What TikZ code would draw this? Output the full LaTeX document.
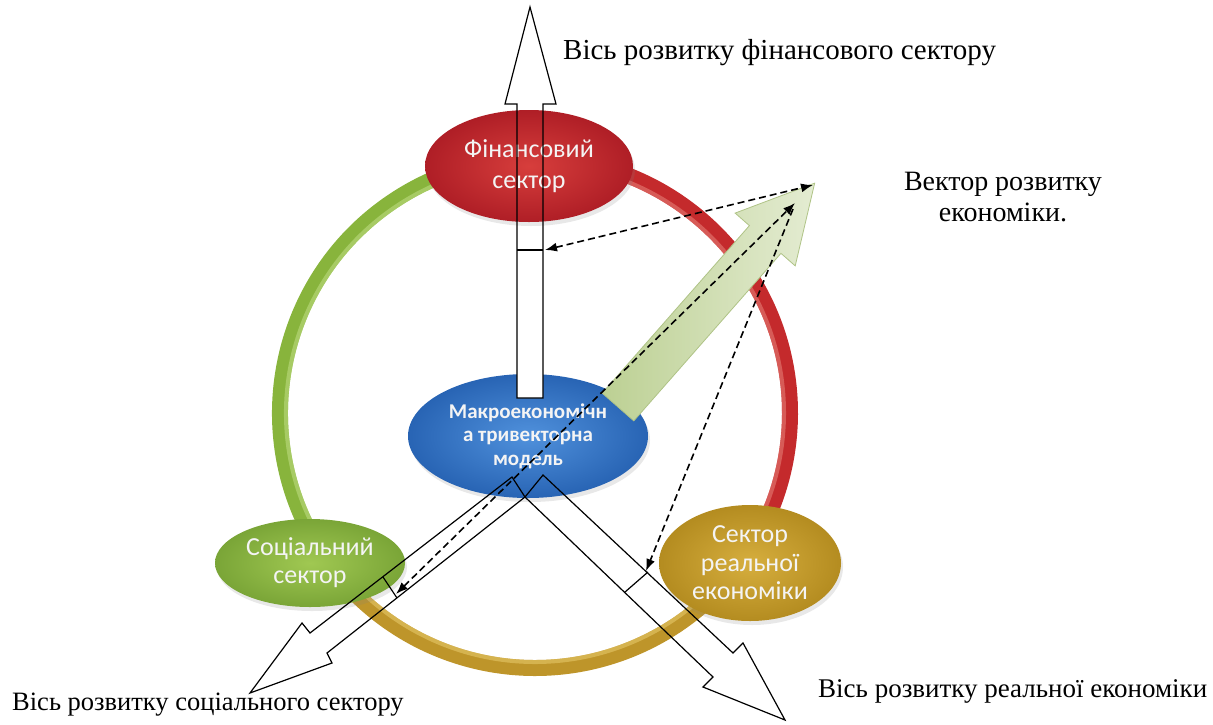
\documentclass[tikz,border=0pt]{standalone}
\usepackage{fontspec}
\setmainfont{Liberation Serif}
\newfontfamily\calfont{Carlito}
\usetikzlibrary{arrows.meta,shadows,shapes.geometric,calc}
\definecolor{rgreen}{HTML}{88B43C}
\definecolor{rgreenhi}{HTML}{B5D676}
\definecolor{rred}{HTML}{C42A2C}
\definecolor{rredhi}{HTML}{E0706A}
\definecolor{rgold}{HTML}{BE952A}
\definecolor{rgoldhi}{HTML}{E0C060}
\definecolor{vecA}{HTML}{BCD093}
\definecolor{vecB}{HTML}{E4ECD2}
\definecolor{vecedge}{HTML}{AFC386}
\definecolor{eltext}{HTML}{F4F4F4}
\tikzset{
  blob/.style={ellipse, inner sep=0pt, text=eltext, align=center,
    drop shadow={shadow xshift=2pt, shadow yshift=-4pt, opacity=0.18}},
  ringpart/.style={line width=16pt},
  ringhi/.style={line width=4pt, opacity=0.7},
  axisline/.style={draw=black, line width=1.2pt, line join=miter},
  dasharrow/.style={draw=black, line width=1.6pt, dash pattern=on 7pt off 4pt},
  lab/.style={inner sep=0pt, font=\fontsize{27}{31}\selectfont}
}
\begin{document}
\begin{tikzpicture}[x=1pt,y=-1pt]
\useasboundingbox (0,0) rectangle (1213,724);
\coordinate (c) at (535,413);
% ring
\draw[ringpart, rgreen] ($(c)+(146:255)$) arc[start angle=146, end angle=272, radius=255];
\draw[ringpart, rred] ($(c)+(268:255)$) arc[start angle=268, end angle=395, radius=255];
\draw[ringpart, rgold] ($(c)+(35:255)$) arc[start angle=35, end angle=148, radius=255];
\draw[ringhi, rgreenhi] ($(c)+(150:249)$) arc[start angle=150, end angle=268, radius=249];
\draw[ringhi, rredhi] ($(c)+(272:249)$) arc[start angle=272, end angle=390, radius=249];
\draw[ringhi, rgoldhi] ($(c)+(40:249)$) arc[start angle=40, end angle=142, radius=249];
% central ellipse
\node[blob, minimum width=240pt, minimum height=124pt,
      inner color={rgb,255:red,80;green,145;blue,220}, outer color={rgb,255:red,40;green,100;blue,180},
      font=\calfont\bfseries\fontsize{21}{23.5}\selectfont] (macro) at (528,436)
      {Макроекономічн\\а тривекторна\\модель};
% vertical axis fill (white over the central ellipse)
\fill[white] (517,398) -- (517,104) -- (505,104) -- (530,7) -- (556,104) -- (543,104) -- (543,398) -- cycle;
% sector ellipses
\node[blob, minimum width=208pt, minimum height=112pt,
      inner color={rgb,255:red,215;green,62;blue,60}, outer color={rgb,255:red,175;green,30;blue,38},
      font=\calfont\fontsize{26}{31}\selectfont] (fin) at (529,166) {Фінансовий\\сектор};
\node[blob, minimum width=190pt, minimum height=88pt,
      inner color={rgb,255:red,160;green,200;blue,82}, outer color={rgb,255:red,122;green,165;blue,55},
      font=\calfont\fontsize{26}{28}\selectfont] (soc) at (310,563) {Соціальний\\сектор};
\node[blob, minimum width=182pt, minimum height=116pt,
      inner color={rgb,255:red,214;green,174;blue,62}, outer color={rgb,255:red,180;green,140;blue,32},
      font=\calfont\fontsize{26}{28.5}\selectfont] (real) at (750,563) {Сектор\\реальної\\економіки};
% economy vector (block arrow)
\begin{scope}[shift={(618,407)}, rotate=48.7]
  \shade[left color=vecA, right color=vecB, draw=vecedge, line width=0.8pt]
    (0,-21) -- (223,-21) -- (223,-40) -- (298,0) -- (223,40) -- (223,21) -- (0,21) -- cycle;
\end{scope}
% axis arrows (outlines)
\draw[axisline] (517,398) -- (517,104) -- (505,104) -- (530,7) -- (556,104) -- (543,104) -- (543,398) -- cycle;
\draw[axisline] (512,477) -- (310,633) -- (302,623) -- (250,693) -- (332,663) -- (327,653) -- (525,497) -- cycle;
\draw[axisline] (543,475) -- (733,653) -- (743,643) -- (785,720) -- (703,687) -- (713,677) -- (525,497) -- cycle;
% ticks
\coordinate (vA) at (517,250); \coordinate (vB) at (543,250);
\coordinate (sA) at (383,577); \coordinate (sB) at (397,598);
\coordinate (rA) at (625,592); \coordinate (rB) at (648,572);
\draw[axisline] (vA) -- (vB);
\draw[axisline] (sA) -- (sB);
\draw[axisline] (rA) -- (rB);
% dashed arrows
\coordinate (t1) at (813,185);
\coordinate (t2) at (795,203);
\coordinate (t3) at (793,209);
\coordinate (e1) at (545,250);
\coordinate (e2) at (396,594);
\coordinate (e3) at (646,571);
\draw[dasharrow, {Latex[length=12pt,width=9pt]}-{Latex[length=12pt,width=9pt]}] (e1) -- (t1);
\draw[dasharrow, {Latex[length=12pt,width=9pt]}-{Latex[length=12pt,width=9pt]}] (e2) -- (t2);
\draw[dasharrow, -{Latex[length=12pt,width=9pt]}] (t3) -- (e3);
% labels
\node[lab, anchor=west, font=\fontsize{29}{33}\selectfont] (lfin) at (563,53) {Вісь розвитку фінансового сектору};
\node[lab, align=center, font=\fontsize{28}{31}\selectfont] (lvec) at (1003,197) {Вектор розвитку\\економіки.};
\node[lab, anchor=west, font=\fontsize{26.5}{31}\selectfont] (lsoc) at (12,705) {Вісь розвитку соціального сектору};
\node[lab, anchor=west] (lreal) at (818,691) {Вісь розвитку реальної економіки};
\end{tikzpicture}
\end{document}
